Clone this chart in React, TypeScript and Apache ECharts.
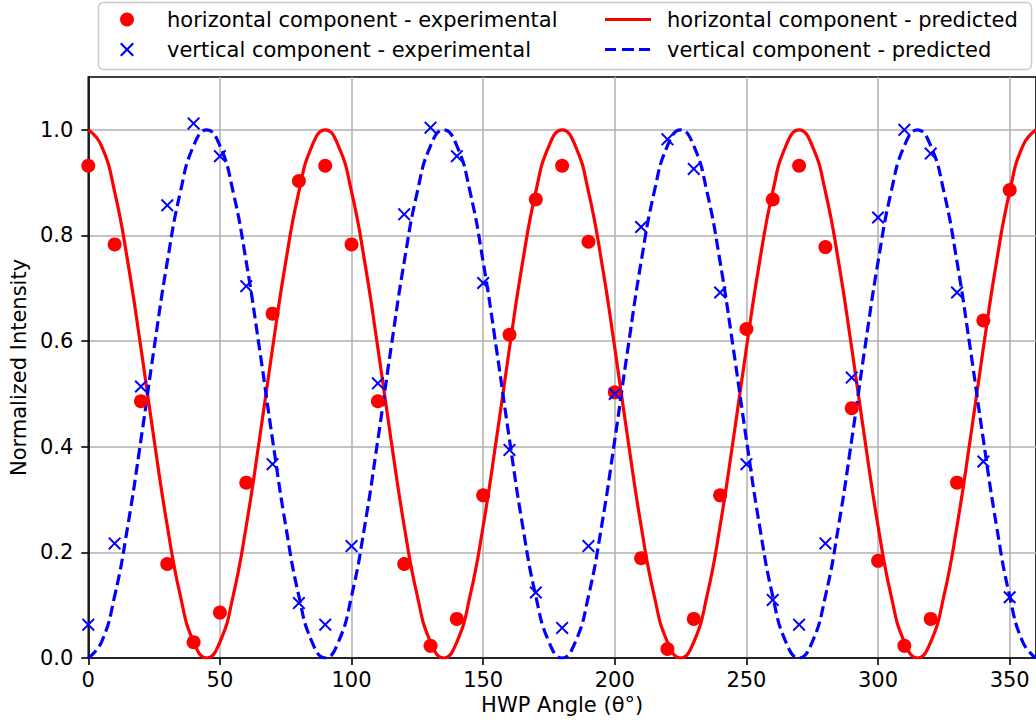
import React, { useEffect, useRef } from "react";
import * as echarts from "echarts";

// Experimental measurement angles (degrees)
const expAngles = [0, 10, 20, 30, 40, 50, 60, 70, 80, 90, 100, 110, 120, 130, 140, 150, 160, 170,
  180, 190, 200, 210, 220, 230, 240, 250, 260, 270, 280, 290, 300, 310, 320, 330, 340, 350];

const horizExp = [0.932, 0.783, 0.486, 0.178, 0.030, 0.086, 0.332, 0.652, 0.903, 0.932, 0.783, 0.486,
  0.178, 0.023, 0.074, 0.308, 0.612, 0.868, 0.932, 0.788, 0.503, 0.189, 0.017, 0.074,
  0.308, 0.623, 0.868, 0.932, 0.778, 0.473, 0.184, 0.023, 0.074, 0.332, 0.639, 0.886];

const vertExp = [0.063, 0.217, 0.514, 0.857, 1.012, 0.950, 0.704, 0.367, 0.104, 0.063, 0.212, 0.520,
  0.840, 1.004, 0.950, 0.710, 0.394, 0.124, 0.057, 0.212, 0.500, 0.816, 0.982, 0.926,
  0.692, 0.367, 0.110, 0.063, 0.217, 0.531, 0.834, 1.000, 0.955, 0.692, 0.372, 0.115];

// Predicted curve sample angles (degrees)
const predAngles = [0, 5, 10, 15, 20, 25, 30, 35, 40, 45, 50, 55, 60, 65, 70, 75, 80, 85,
  90, 95, 100, 105, 110, 115, 120, 125, 130, 135, 140, 145, 150, 155, 160, 165, 170, 175,
  180, 185, 190, 195, 200, 205, 210, 215, 220, 225, 230, 235, 240, 245, 250, 255, 260, 265,
  270, 275, 280, 285, 290, 295, 300, 305, 310, 315, 320, 325, 330, 335, 340, 345, 350, 355, 360];

const horizPred = [1, 0.9698, 0.8830, 0.7500, 0.5868, 0.4132, 0.2500, 0.1170, 0.0302, 0, 0.0302, 0.1170, 0.2500, 0.4132, 0.5868, 0.7500, 0.8830, 0.9698,
  1, 0.9698, 0.8830, 0.7500, 0.5868, 0.4132, 0.2500, 0.1170, 0.0302, 0, 0.0302, 0.1170, 0.2500, 0.4132, 0.5868, 0.7500, 0.8830, 0.9698,
  1, 0.9698, 0.8830, 0.7500, 0.5868, 0.4132, 0.2500, 0.1170, 0.0302, 0, 0.0302, 0.1170, 0.2500, 0.4132, 0.5868, 0.7500, 0.8830, 0.9698,
  1, 0.9698, 0.8830, 0.7500, 0.5868, 0.4132, 0.2500, 0.1170, 0.0302, 0, 0.0302, 0.1170, 0.2500, 0.4132, 0.5868, 0.7500, 0.8830, 0.9698,
  1];

const vertPred = [0, 0.0302, 0.1170, 0.2500, 0.4132, 0.5868, 0.7500, 0.8830, 0.9698, 1, 0.9698, 0.8830, 0.7500, 0.5868, 0.4132, 0.2500, 0.1170, 0.0302,
  0, 0.0302, 0.1170, 0.2500, 0.4132, 0.5868, 0.7500, 0.8830, 0.9698, 1, 0.9698, 0.8830, 0.7500, 0.5868, 0.4132, 0.2500, 0.1170, 0.0302,
  0, 0.0302, 0.1170, 0.2500, 0.4132, 0.5868, 0.7500, 0.8830, 0.9698, 1, 0.9698, 0.8830, 0.7500, 0.5868, 0.4132, 0.2500, 0.1170, 0.0302,
  0, 0.0302, 0.1170, 0.2500, 0.4132, 0.5868, 0.7500, 0.8830, 0.9698, 1, 0.9698, 0.8830, 0.7500, 0.5868, 0.4132, 0.2500, 0.1170, 0.0302,
  0];

const yTicks = [0, 0.2, 0.4, 0.6, 0.8, 1.0];
const xTicks = [0, 50, 100, 150, 200, 250, 300, 350];

const names = {
  hExp: "horizontal component - experimental",
  vExp: "vertical component - experimental",
  hPred: "horizontal component - predicted",
  vPred: "vertical component - predicted",
};

const FONT = "DejaVu Sans";
const FS = 21;
const X_MARK = "path://M0,1.5L1.5,0L7,5.5L12.5,0L14,1.5L8.5,7L14,12.5L12.5,14L7,8.5L1.5,14L0,12.5L5.5,7Z";

// Legend icons drawn in a 57x14 box; two tiny corner slivers fix the box extent
const EXT = " M0,0H0.02V0.02H0Z M56.98,13.98H57V14H56.98Z";
const ICON_DOT = "path://M22,0A7,7 0 1,1 22,14A7,7 0 1,1 22,0Z" + EXT;
const ICON_X = "path://M15,1.5L16.5,0L22,5.5L27.5,0L29,1.5L23.5,7L29,12.5L27.5,14L22,8.5L16.5,14L15,12.5L20.5,7Z" + EXT;
const ICON_SOLID = "path://M0,5.4H46V8.6H0Z" + EXT;
const ICON_DASH = "path://M0,5.4H11V8.6H0Z M17,5.4H29V8.6H17Z M34,5.4H45V8.6H34Z" + EXT;

export default function App() {
  const ref = useRef<HTMLDivElement>(null);
  useEffect(() => {
    if (!ref.current) return;
    const chart = echarts.init(ref.current, null, { renderer: "svg" });
    const zip = (xs: number[], ys: number[]) => xs.map((x, i) => [x, ys[i]]);
    const legendCommon = {
      orient: "vertical",
      itemWidth: 57,
      itemHeight: 14,
      itemGap: 9,
      top: 4,
      selectedMode: false,
      z: 10,
      textStyle: { fontFamily: FONT, fontSize: FS, color: "#000" },
    };
    chart.setOption({
      animation: false,
      backgroundColor: "#fff",
      textStyle: { fontFamily: FONT },
      graphic: [
        {
          type: "rect",
          z: 1,
          shape: { x: 98.5, y: 2.5, width: 933, height: 67, r: 5 },
          style: { fill: "rgba(255,255,255,0.8)", stroke: "#cccccc", lineWidth: 1.5 },
        },
      ],
      legend: [
        {
          ...legendCommon,
          left: 100,
          data: [
            { name: names.hExp, icon: ICON_DOT, itemStyle: { borderWidth: 0 } },
            { name: names.vExp, icon: ICON_X, itemStyle: { borderWidth: 0 } },
          ],
        },
        {
          ...legendCommon,
          left: 600,
          data: [
            { name: names.hPred, icon: ICON_SOLID, itemStyle: { borderWidth: 0 } },
            { name: names.vPred, icon: ICON_DASH, itemStyle: { borderWidth: 0 } },
          ],
        },
      ],
      grid: {
        left: 88,
        top: 77,
        width: 950,
        height: 581,
        show: true,
        borderColor: "#000",
        borderWidth: 1.6,
        backgroundColor: "transparent",
        containLabel: false,
      },
      xAxis: {
        type: "value",
        min: 0,
        max: 360,
        interval: 50,
        name: "HWP Angle (\u03B8\u00B0)",
        nameLocation: "middle",
        nameGap: 28,
        nameTextStyle: { fontFamily: FONT, fontSize: FS, color: "#000" },
        axisLine: { show: true, lineStyle: { color: "#000", width: 1.6 } },
        axisTick: { show: true, length: 7, customValues: xTicks, lineStyle: { color: "#000", width: 1.6 } },
        axisLabel: {
          fontFamily: FONT,
          fontSize: FS,
          color: "#000",
          margin: 11,
          customValues: xTicks,
        },
        splitLine: { show: true, lineStyle: { color: "#b0b0b0", width: 1.5 } },
      },
      yAxis: {
        type: "value",
        min: 0,
        max: 1.1,
        interval: 0.2,
        name: "Normalized Intensity",
        nameLocation: "middle",
        nameGap: 58,
        nameTextStyle: { fontFamily: FONT, fontSize: FS, color: "#000" },
        axisLine: { show: true, lineStyle: { color: "#000", width: 1.6 } },
        axisTick: { show: true, length: 7, customValues: yTicks, lineStyle: { color: "#000", width: 1.6 } },
        axisLabel: {
          fontFamily: FONT,
          fontSize: FS,
          color: "#000",
          margin: 15,
          customValues: yTicks,
          formatter: (v: number) => v.toFixed(1),
        },
        splitLine: { show: true, lineStyle: { color: "#b0b0b0", width: 1.5 } },
      },
      series: [
        {
          name: names.hPred,
          type: "line",
          data: zip(predAngles, horizPred),
          smooth: 0.5,
          showSymbol: false,
          symbol: "none",
          lineStyle: { color: "#ff0000", width: 3.2 },
          itemStyle: { color: "#ff0000" },
          z: 2,
        },
        {
          name: names.vPred,
          type: "line",
          data: zip(predAngles, vertPred),
          smooth: 0.5,
          showSymbol: false,
          symbol: "none",
          lineStyle: { color: "#0000ff", width: 3.2, type: [11, 5] },
          itemStyle: { color: "#0000ff" },
          z: 2,
        },
        {
          name: names.hExp,
          type: "scatter",
          data: zip(expAngles, horizExp),
          symbol: "circle",
          symbolSize: 14,
          itemStyle: { color: "#ff0000", opacity: 1 },
          z: 3,
        },
        {
          name: names.vExp,
          type: "scatter",
          data: zip(expAngles, vertExp),
          symbol: X_MARK,
          symbolSize: 13,
          itemStyle: { color: "#0000ff", opacity: 1 },
          z: 3,
        },
      ],
    });
    return () => chart.dispose();
  }, []);
  return (
    <div
      ref={ref}
      style={{ position: "absolute", left: 0, top: 0, width: 1036, height: 725 }}
    />
  );
}
